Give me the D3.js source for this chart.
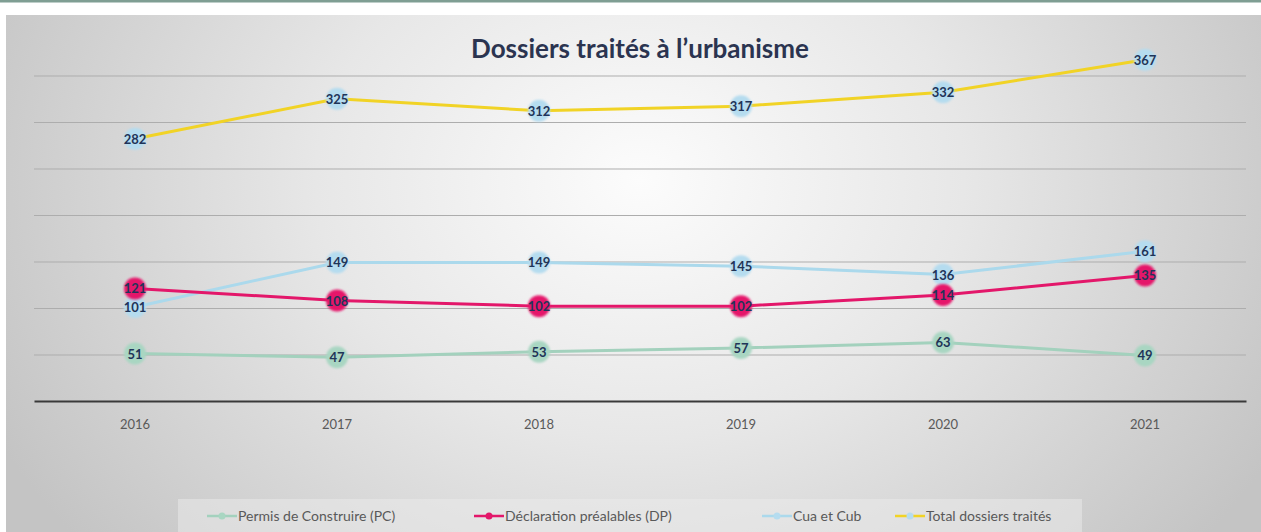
<!DOCTYPE html>
<html>
<head>
<meta charset="utf-8">
<script src="https://cdn.jsdelivr.net/npm/d3@7"></script>
<style>
  body { margin: 0; background: #ffffff; }
  svg { display: block; }
</style>
</head>
<body>
<svg id="chart" width="1261" height="532"></svg>
<script>
// data
var years = ["2016", "2017", "2018", "2019", "2020", "2021"];
var permis = [51, 47, 53, 57, 63, 49];
var declarations = [121, 108, 102, 102, 114, 135];
var cuaCub = [101, 149, 149, 145, 136, 161];
var total = [282, 325, 312, 317, 332, 367];
var yTicks = [0, 50, 100, 150, 200, 250, 300, 350];

var seriesNames = ["Permis de Construire (PC)", "Déclaration préalables (DP)", "Cua et Cub", "Total dossiers traités"];

var drawChart = function() {
  let svg = d3.select("#chart");
  let width = 1261, height = 532;

  let margin = { top: 29, right: 15, bottom: 131, left: 34 };
  let plotWidth = width - margin.left - margin.right;
  let plotHeight = height - margin.top - margin.bottom;

  let defs = svg.append("defs");
  let grad = defs.append("radialGradient")
    .attr("id", "bg")
    .attr("gradientUnits", "userSpaceOnUse")
    .attr("cx", 640).attr("cy", 180).attr("r", 720)
    .attr("gradientTransform", "translate(640,180) scale(1,0.8) translate(-640,-180)");
  grad.append("stop").attr("offset", "0%").attr("stop-color", "#fcfcfc");
  grad.append("stop").attr("offset", "45%").attr("stop-color", "#e7e7e7");
  grad.append("stop").attr("offset", "100%").attr("stop-color", "#c4c4c4");

  let blur = defs.append("filter").attr("id", "soft")
    .attr("x", "-50%").attr("y", "-50%").attr("width", "200%").attr("height", "200%");
  blur.append("feGaussianBlur").attr("stdDeviation", 1.2);

  // frame
  svg.append("rect").attr("x", 0).attr("y", 0).attr("width", width).attr("height", 2.5)
    .attr("fill", "#7f9e93");
  svg.append("rect").attr("x", 6).attr("y", 15).attr("width", width - 6).attr("height", height - 15)
    .attr("fill", "url(#bg)");

  let xScale = d3.scaleBand()
    .domain(years)
    .range([0, plotWidth]);

  let yScale = d3.scaleLinear()
    .domain([0, 400])
    .range([plotHeight, 0]);

  let plot = svg.append("g").attr("id", "plot")
    .attr("transform", "translate(" + margin.left + "," + margin.top + ")");

  // gridlines
  let yAxis = d3.axisLeft(yScale).tickValues(yTicks.slice(1)).tickSize(-plotWidth).tickFormat("");
  let yGroup = plot.append("g").attr("id", "y-axis").call(yAxis);
  yGroup.select(".domain").remove();
  yGroup.selectAll(".tick line").attr("stroke", "#adadad").attr("stroke-width", 1);

  // x-axis
  let xAxis = d3.axisBottom(xScale).tickSize(0).tickPadding(19);
  let xGroup = plot.append("g").attr("id", "x-axis")
    .attr("transform", "translate(0," + plotHeight + ")")
    .call(xAxis);
  xGroup.select(".domain").attr("stroke", "#3a3a3a").attr("stroke-width", 2);
  xGroup.selectAll("text")
    .style("fill", "#595959")
    .style("font-size", "13px")
    .style("font-family", "Lato, 'Open Sans', sans-serif");

  let series = [
    { name: seriesNames[3], values: total, line: "#f1d326", dot: "#b5dcef" },
    { name: seriesNames[2], values: cuaCub, line: "#abd9ec", dot: "#b5dcef" },
    { name: seriesNames[1], values: declarations, line: "#e3176a", dot: "#e5176b" },
    { name: seriesNames[0], values: permis, line: "#a3d1bd", dot: "#a9d6c2" }
  ];

  let cx = (i) => xScale(years[i]) + xScale.bandwidth() / 2;
  let line = d3.line()
    .x((d, i) => cx(i))
    .y((d) => yScale(d));

  for (let s of series) {
    plot.append("path")
      .datum(s.values)
      .attr("d", line)
      .attr("fill", "none")
      .attr("stroke", s.line)
      .attr("stroke-width", 3);
  }

  for (let s of series) {
    plot.selectAll(null)
      .data(s.values)
      .enter().append("circle")
      .attr("cx", (d, i) => cx(i))
      .attr("cy", (d) => yScale(d))
      .attr("r", 11)
      .attr("fill", s.dot)
      .attr("filter", "url(#soft)");
  }

  // data labels
  for (let s of series) {
    plot.selectAll(null)
      .data(s.values)
      .enter().append("text")
      .text((d) => d)
      .attr("x", (d, i) => cx(i))
      .attr("y", (d) => yScale(d) + 5)
      .attr("text-anchor", "middle")
      .style("fill", "#1f3458")
      .style("font-size", "13px")
      .style("font-weight", "bold")
      .style("font-family", "Lato, 'Open Sans', sans-serif");
  }

  // Title
  svg.append("text")
    .text("Dossiers traités à l’urbanisme")
    .attr("x", 640)
    .attr("y", 58)
    .attr("text-anchor", "middle")
    .style("fill", "#2b3450")
    .style("font-size", "26px")
    .style("font-weight", "bold")
    .style("font-family", "Lato, 'Open Sans', sans-serif");

  // legend
  svg.append("rect").attr("x", 178).attr("y", 499).attr("width", 904).attr("height", 33)
    .attr("fill", "#ececec").attr("opacity", 0.5);

  let legendItems = [
    { name: seriesNames[0], color: "#a3d1bd", dot: "#a9d6c2", x: 207 },
    { name: seriesNames[1], color: "#e3176a", dot: "#e3176a", x: 474 },
    { name: seriesNames[2], color: "#abd9ec", dot: "#b5dcef", x: 762 },
    { name: seriesNames[3], color: "#f1d326", dot: "#b5dcef", x: 895 }
  ];
  let legend = svg.append("g").attr("id", "legend");
  for (let item of legendItems) {
    legend.append("line")
      .attr("x1", item.x).attr("x2", item.x + 30)
      .attr("y1", 516).attr("y2", 516)
      .attr("stroke", item.color).attr("stroke-width", 2.5);
    legend.append("circle")
      .attr("cx", item.x + 15).attr("cy", 516).attr("r", 3.5)
      .attr("fill", item.dot);
    legend.append("text")
      .text(item.name)
      .attr("x", item.x + 31)
      .attr("y", 521)
      .style("fill", "#595959")
      .style("font-size", "14px")
      .style("font-family", "Lato, 'Open Sans', sans-serif");
  }
}

drawChart();
</script>
</body>
</html>
